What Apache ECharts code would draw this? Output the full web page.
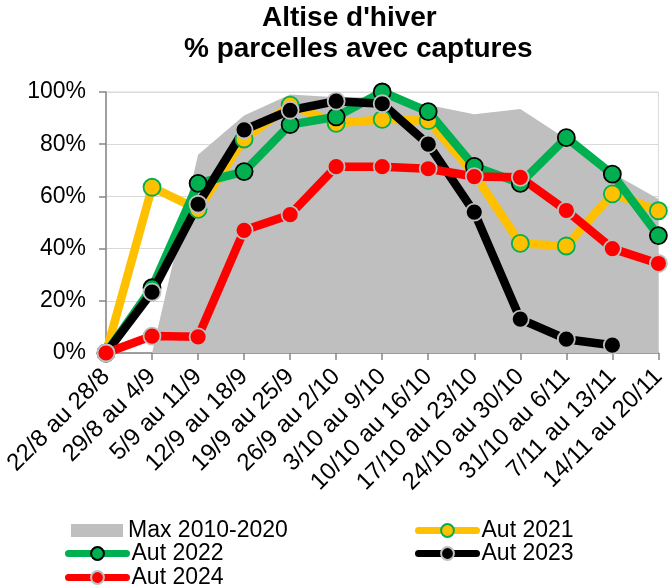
<!DOCTYPE html>
<html>
<head>
<meta charset="utf-8">
<script src="https://cdn.jsdelivr.net/npm/echarts@6/dist/echarts.min.js"></script>
<style>html,body{margin:0;padding:0;background:#fff;}#c{width:669px;height:585px;}</style>
</head>
<body>
<div id="c"></div>
<script>
const categories = ["22/8 au 28/8","29/8 au 4/9","5/9 au 11/9","12/9 au 18/9","19/9 au 25/9","26/9 au 2/10","3/10 au 9/10","10/10 au 16/10","17/10 au 23/10","24/10 au 30/10","31/10 au 6/11","7/11 au 13/11","14/11 au 20/11"];
const maxRef  = [0, 0, 0.76, 0.91, 0.99, 0.98, 0.98, 0.95, 0.915, 0.935, 0.82, 0.69, 0.59];
const aut2021 = [0, 0.635, 0.55, 0.82, 0.95, 0.88, 0.895, 0.89, 0.685, 0.42, 0.41, 0.61, 0.545];
const aut2022 = [0, 0.25, 0.65, 0.695, 0.875, 0.905, 1.0, 0.925, 0.715, 0.65, 0.825, 0.685, 0.45];
const aut2023 = [0, 0.233, 0.57, 0.855, 0.93, 0.965, 0.955, 0.80, 0.54, 0.13, 0.053, 0.03, null];
const aut2024 = [0, 0.065, 0.062, 0.47, 0.53, 0.714, 0.714, 0.706, 0.676, 0.673, 0.546, 0.40, 0.343];
const titleLines = ["Altise d'hiver", "% parcelles avec captures"];

const FONT = 'Liberation Sans, Arial, sans-serif';
const TITLE_FONT_SIZE = 28;

function textWidth(txt, size, weight) {
  const c = document.createElement('canvas').getContext('2d');
  c.font = (weight || 'normal') + ' ' + size + 'px ' + FONT;
  return c.measureText(txt).width;
}

function lineSeries(name, data, color, border) {
  return {
    name, type: 'line', data,
    symbol: 'circle', symbolSize: 17,
    lineStyle: { color, width: 8.5 },
    itemStyle: { color, borderColor: border, borderWidth: 1.8 },
    emphasis: { disabled: true },
    animation: false
  };
}

function legendAt(name, left, top, extra) {
  return Object.assign({
    data: [name], left, top, orient: 'horizontal',
    itemWidth: 58, itemHeight: 16,
    lineStyle: { width: 7, cap: 'round' },
    textStyle: { fontSize: 23, color: '#000', fontFamily: FONT },
    selectedMode: false
  }, extra || {});
}

const titleCenters = [349, 358];
const titleTops = [4, 35];
const titles = titleLines.map((t, i) => ({
  text: t,
  left: Math.round(titleCenters[i] - textWidth(t, TITLE_FONT_SIZE, 'bold') / 2),
  top: titleTops[i],
  padding: 0,
  textStyle: { fontSize: TITLE_FONT_SIZE, fontWeight: 'bold', color: '#000', fontFamily: FONT }
}));

const chart = echarts.init(document.getElementById('c'), null, { renderer: 'canvas' });
chart.setOption({
  backgroundColor: '#fff',
  animation: false,
  title: titles,
  grid: { left: 106, right: 5, top: 92, bottom: 232, show: true, borderColor: '#d9d9d9', borderWidth: 1 },
  legend: [
    legendAt('Max 2010-2020', 66, 514, { icon: 'rect', itemWidth: 52, itemHeight: 13 }),
    legendAt('Aut 2021', 410, 514),
    legendAt('Aut 2022', 60, 537),
    legendAt('Aut 2023', 410, 537),
    legendAt('Aut 2024', 60, 561)
  ],
  xAxis: {
    type: 'category', data: categories, boundaryGap: false,
    axisLine: { lineStyle: { color: '#868686', width: 1.5 } },
    axisTick: { show: true, length: 7, lineStyle: { color: '#868686', width: 1.5 } },
    axisLabel: { rotate: 45, interval: 0, fontSize: 24, color: '#000', fontFamily: FONT, margin: 20 },
    splitLine: { show: false }
  },
  yAxis: {
    type: 'value', min: 0, max: 1, interval: 0.2,
    axisLine: { show: true, lineStyle: { color: '#868686', width: 1.5 } },
    axisTick: { show: true, length: 7, lineStyle: { color: '#868686', width: 1.5 } },
    axisLabel: { fontSize: 23, color: '#000', fontFamily: FONT, margin: 20,
      formatter: v => Math.round(v * 100) + '%' },
    splitLine: { lineStyle: { color: '#d9d9d9', width: 1 } }
  },
  series: [
    {
      name: 'Max 2010-2020', type: 'line', data: maxRef,
      symbol: 'none', lineStyle: { width: 0, color: '#bfbfbf' },
      itemStyle: { color: '#bfbfbf' },
      areaStyle: { color: '#bfbfbf', opacity: 1 },
      emphasis: { disabled: true }, animation: false
    },
    lineSeries('Aut 2021', aut2021, '#ffc000', '#00b050'),
    lineSeries('Aut 2022', aut2022, '#00b050', '#000000'),
    lineSeries('Aut 2023', aut2023, '#000000', '#bfbfbf'),
    lineSeries('Aut 2024', aut2024, '#ff0000', '#bfbfbf')
  ]
});
</script>
</body>
</html>
